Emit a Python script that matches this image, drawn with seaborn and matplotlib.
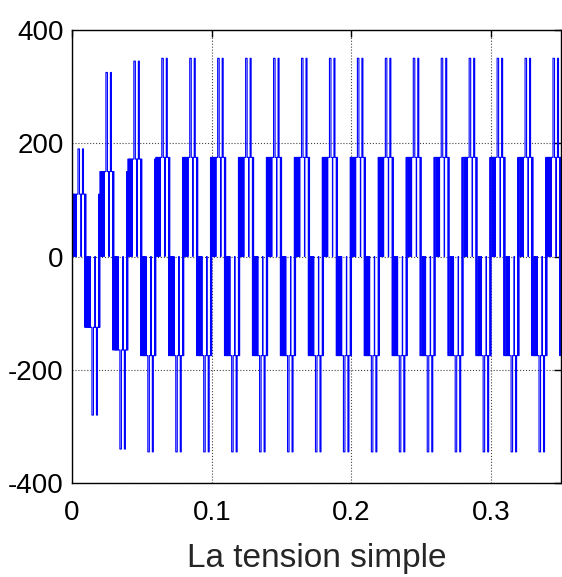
import numpy as np
import pandas as pd
import seaborn as sns
import matplotlib
matplotlib.use("Agg")
import matplotlib.pyplot as plt

# one fundamental period (50 Hz) of the inverter phase voltage
period = 0.02
n_periods = 18

# switching pattern read over the positive half period: (fraction of period, level code)
# code 1 = low step, 2 = high step, -1 = low negative step; the negative half mirrors it
half_frac = [0.000, 0.043, 0.052, 0.089, 0.100, 0.143, 0.154, 0.214, 0.268,
             0.321, 0.332, 0.375, 0.411, 0.457, 0.471]
half_code = [1, 0, 1, 0, 1, 0, 1, 2, 1,
             0, 1, 2, 1, -1, 1]

# step amplitudes per period (start-up transient then steady state)
pos_low = [110, 150, 172] + [175] * 15
pos_high = [190, 325, 345] + [350] * 15
neg_low = [125, 165, 175] + [175] * 15
neg_high = [280, 340, 345] + [345] * 15


def level(code, k):
    if code == 0:
        return 0
    if code == 1:
        return pos_low[k]
    if code == 2:
        return pos_high[k]
    if code == -1:
        return -neg_low[k]
    return -neg_high[k]


t_vals, v_vals = [], []
for k in range(n_periods):
    for f, c in zip(half_frac, half_code):
        t_vals.append((k + f) * period)
        v_vals.append(level(c, k))
    for f, c in zip(half_frac, half_code):
        t_vals.append((k + 0.5 + f) * period)
        v_vals.append(level(-c, k))

df = pd.DataFrame({"t": t_vals, "v": v_vals})

sns.set_style("white")
plt.rcParams["font.family"] = ["Liberation Sans", "DejaVu Sans"]

fig = plt.figure(figsize=(5.62, 5.77), dpi=100)
ax = fig.add_axes([0.1281, 0.1629, 0.8701, 0.7851])

sns.lineplot(data=df, x="t", y="v", ax=ax, estimator=None, sort=False,
             drawstyle="steps-post", color="#0000ff", linewidth=0.8)

ax.set_xlim(0, 0.35)
ax.set_ylim(-400, 400)
ax.set_xticks([0, 0.1, 0.2, 0.3])
ax.set_xticklabels(["0", "0.1", "0.2", "0.3"])
ax.set_yticks([-400, -200, 0, 200, 400])
ax.set_yticklabels(["-400", "-200", "0", "200", "400"])
ax.grid(True, linestyle=":", color="#444444", linewidth=0.8)
ax.tick_params(direction="in", length=5, width=1, top=True, right=True,
               labelsize=20, colors="black")
ax.tick_params(axis="x", pad=12)
ax.tick_params(axis="y", pad=6)
for s in ax.spines.values():
    s.set_color("black")
    s.set_linewidth(1.0)

ax.set_ylabel("")
ax.set_xlabel("La tension simple", fontsize=24)
ax.xaxis.label.set_va("baseline")
ax.xaxis.set_label_coords(0.5, -0.185)

fig.savefig("out.png", dpi=100)
